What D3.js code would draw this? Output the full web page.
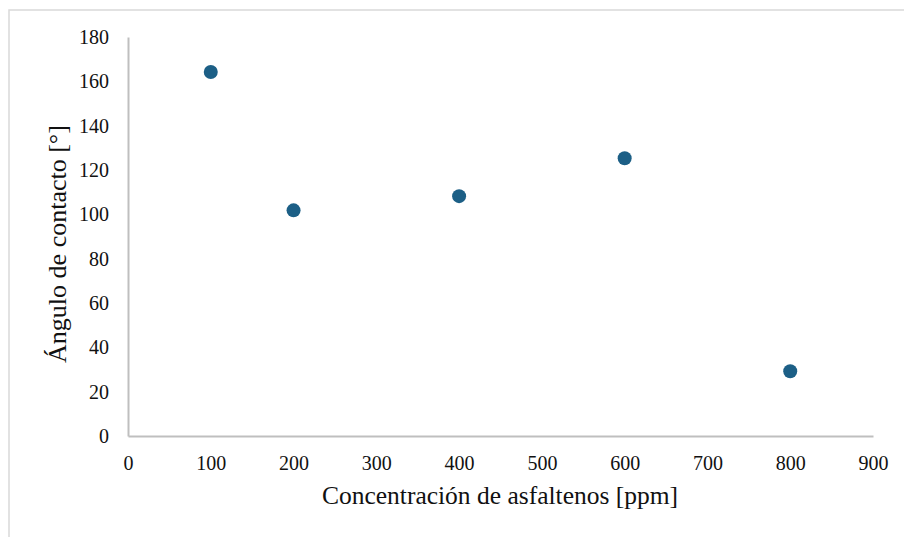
<!DOCTYPE html>
<html>
<head>
<meta charset="utf-8">
<script src="https://cdn.jsdelivr.net/npm/d3@7"></script>
<style>
  html, body { margin: 0; padding: 0; background: #fff; }
  svg { display: block; }
</style>
</head>
<body>
<svg id="chart" width="904" height="537"></svg>
<script>
// Concentración de asfaltenos [ppm] vs. ángulo de contacto [°]
const concentrations = [100, 200, 400, 600, 800];
const contactAngles = [164.2, 101.8, 108.2, 125.3, 29.2];
const xTicks = [0, 100, 200, 300, 400, 500, 600, 700, 800, 900];
const yTicks = [0, 20, 40, 60, 80, 100, 120, 140, 160, 180];

const SERIF = "Liberation Serif, Times New Roman, serif";
const svg = d3.select("#chart");
const W = 904, H = 537;

// outer frame
svg.append("rect")
  .attr("x", 9).attr("y", 10)
  .attr("width", W).attr("height", H)
  .attr("fill", "#fff")
  .attr("stroke", "#d9d9d9").attr("stroke-width", 1.5);

const plot = { left: 128, right: 873, top: 37, bottom: 436 };

const x = d3.scaleLinear().domain([0, 900]).range([plot.left, plot.right]);
const y = d3.scaleLinear().domain([0, 180]).range([plot.bottom, plot.top]);

const xAxis = svg.append("g")
  .attr("transform", `translate(0,${plot.bottom})`)
  .call(d3.axisBottom(x).tickValues(xTicks).tickSize(0).tickPadding(20));
const yAxis = svg.append("g")
  .attr("transform", `translate(${plot.left},0)`)
  .call(d3.axisLeft(y).tickValues(yTicks).tickSize(0).tickPadding(19));

[xAxis, yAxis].forEach(g => {
  g.attr("font-family", SERIF).attr("font-size", 20);
  g.select(".domain").attr("stroke", "#bfbfbf").attr("stroke-width", 2);
  g.selectAll("text").attr("fill", "#111");
});

// data points
svg.append("g")
  .selectAll("circle")
  .data(concentrations.map((c, i) => ({ c, a: contactAngles[i] })))
  .join("circle")
  .attr("cx", d => x(d.c))
  .attr("cy", d => y(d.a))
  .attr("r", 7)
  .attr("fill", "#1c5f86");

// axis titles
svg.append("text")
  .attr("x", 500)
  .attr("y", 504)
  .attr("text-anchor", "middle")
  .attr("font-family", SERIF)
  .attr("font-size", 25.5)
  .attr("fill", "#111")
  .text("Concentración de asfaltenos [ppm]");

svg.append("text")
  .attr("transform", "translate(66,244) rotate(-90)")
  .attr("text-anchor", "middle")
  .attr("font-family", SERIF)
  .attr("font-size", 26)
  .attr("fill", "#111")
  .text("Ángulo de contacto [°]");
</script>
</body>
</html>
